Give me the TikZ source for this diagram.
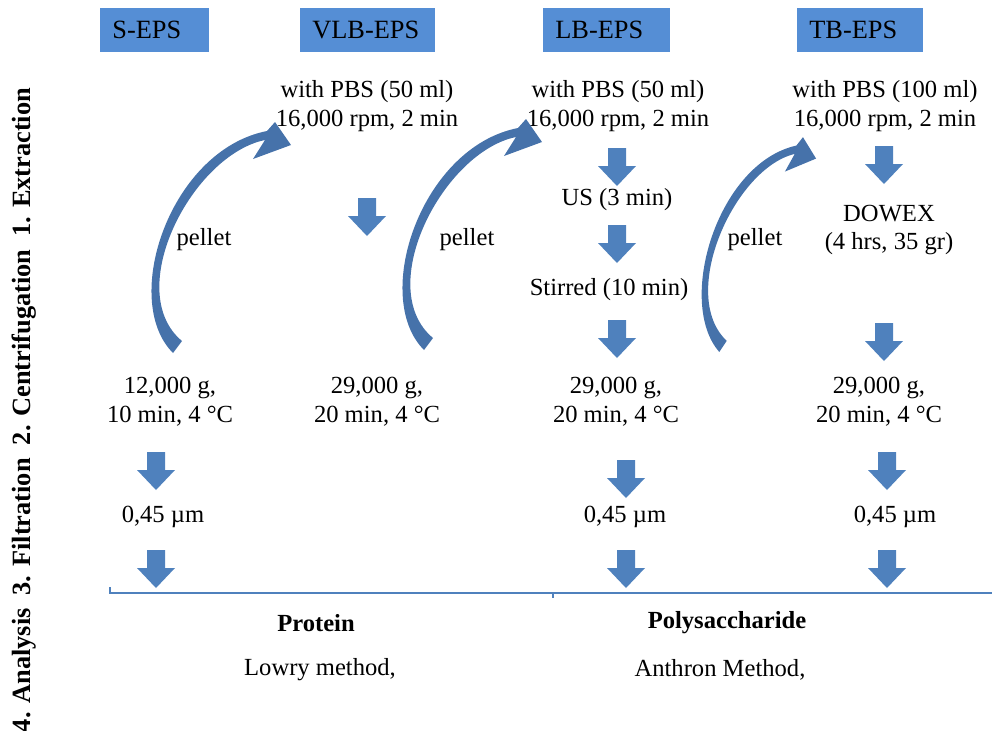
\documentclass[tikz,border=0pt]{standalone}
\usepackage{fontspec}
\setmainfont{Liberation Serif}
\usepackage{tikz}
\usetikzlibrary{positioning}
\definecolor{boxblue}{HTML}{558ED5}
\definecolor{arrowblue}{HTML}{4F81BD}
\definecolor{curveblue}{HTML}{4672AA}

\tikzset{
  txt/.style={align=center, inner sep=1pt, font=\fontsize{14}{16.5}\selectfont},
  boldtxt/.style={txt, font=\fontsize{14}{16.5}\selectfont\bfseries},
  hdr/.style={fill=boxblue, anchor=west, inner xsep=0.24cm, minimum height=0.88cm, align=left, font=\fontsize{15}{17}\selectfont},
  stage/.style={rotate=90, inner sep=0pt, font=\fontsize{15}{17}\selectfont\bfseries},
  downarrow/.pic={\fill[arrowblue] (-9,0) -- (9,0) -- (9,18) -- (19,18) -- (0,38) -- (-19,18) -- (-9,18) -- cycle;},
  pelletarrow/.pic={\fill[curveblue] (26,0) .. controls (-27,-53) and (23,-203) .. (120,-222)
      -- (128,-231) -- (144,-208) -- (106,-194) -- (118,-213)
      .. controls (45,-198) and (-25,-62) .. (35,-12) -- cycle;}
}

\begin{document}
\begin{tikzpicture}[x=0.02cm, y=-0.02cm]
            \useasboundingbox (0,0) rectangle (992,731);

            % headers
            \draw (100,30) node[hdr, text width=1.7cm]  (seps)   {S-EPS};
            \draw (300,30) node[hdr, text width=2.22cm] (vlbeps) {VLB-EPS};
            \draw (543,30) node[hdr, text width=2.06cm] (lbeps)  {LB-EPS};
            \draw (797,30) node[hdr, text width=2.04cm] (tbeps)  {TB-EPS};

            % stages
            \draw (24,410) node[stage] (stages) {4. Analysis\ \ 3. Filtration\ \ 2. Centrifugation\ \ 1. Extraction};

            % extraction
            \draw (367,106) node[txt] (vlbext) {with PBS (50 ml)\\16,000 rpm, 2 min};
            \draw (618,106) node[txt] (lbext)  {with PBS (50 ml)\\16,000 rpm, 2 min};
            \draw (885,106) node[txt] (tbext)  {with PBS (100 ml)\\16,000 rpm, 2 min};
            \draw (617,200) node[txt] (lbus)   {US (3 min)};
            \draw (609,290) node[txt] (lbstir) {Stirred (10 min)};
            \draw (889,230) node[txt] (tbdowex) {DOWEX\\(4 hrs, 35 gr)};

            % centrifugation
            \draw (170,402) node[txt] (scent)   {12,000 g,\\10 min, 4 °C};
            \draw (377,402) node[txt] (vlbcent) {29,000 g,\\20 min, 4 °C};
            \draw (616,402) node[txt] (lbcent)  {29,000 g,\\20 min, 4 °C};
            \draw (879,402) node[txt] (tbcent)  {29,000 g,\\20 min, 4 °C};

            % filtration
            \draw (163,517) node[txt] (sfilt)  {0,45 µm};
            \draw (625,517) node[txt] (lbfilt) {0,45 µm};
            \draw (895,517) node[txt] (tbfilt) {0,45 µm};

            % analysis
            \draw (316,623) node[boldtxt] (prot)    {Protein};
            \draw (320,670) node[txt]     (lowry)   {Lowry method,};
            \draw (727,623) node[boldtxt] (poly)    {Polysaccharide};
            \draw (720,670) node[txt]     (anthron) {Anthron Method,};

            % pellet arrows
            \pic at (147,353) {pelletarrow};
            \pic at (398,350) {pelletarrow};
            \pic[xscale=0.82, yscale=0.93] at (698,352) {pelletarrow};
            \draw (204,240) node[txt] (pel1) {pellet};
            \draw (467,240) node[txt] (pel2) {pellet};
            \draw (755,240) node[txt] (pel3) {pellet};

            % block arrows
            \pic at (367,198) {downarrow};
            \pic at (617,148) {downarrow};
            \pic at (617,225) {downarrow};
            \pic at (617,320) {downarrow};
            \pic at (884,146) {downarrow};
            \pic at (884,323) {downarrow};
            \pic at (156,452) {downarrow};
            \pic at (626,460) {downarrow};
            \pic at (887,452) {downarrow};
            \pic at (156,550) {downarrow};
            \pic at (626,550) {downarrow};
            \pic at (887,550) {downarrow};

            % separator
            \coordinate (lineL) at (110,593);
            \coordinate (lineR) at (992,593);
            \coordinate (lineM) at (553,593);
            \draw[arrowblue, line width=1.1pt] ([yshift=0.12cm]lineL) -- (lineL) -- (lineR);
            \draw[arrowblue, line width=1.1pt] (lineM) -- ([yshift=-0.1cm]lineM);

            \end{tikzpicture}
\end{document}
